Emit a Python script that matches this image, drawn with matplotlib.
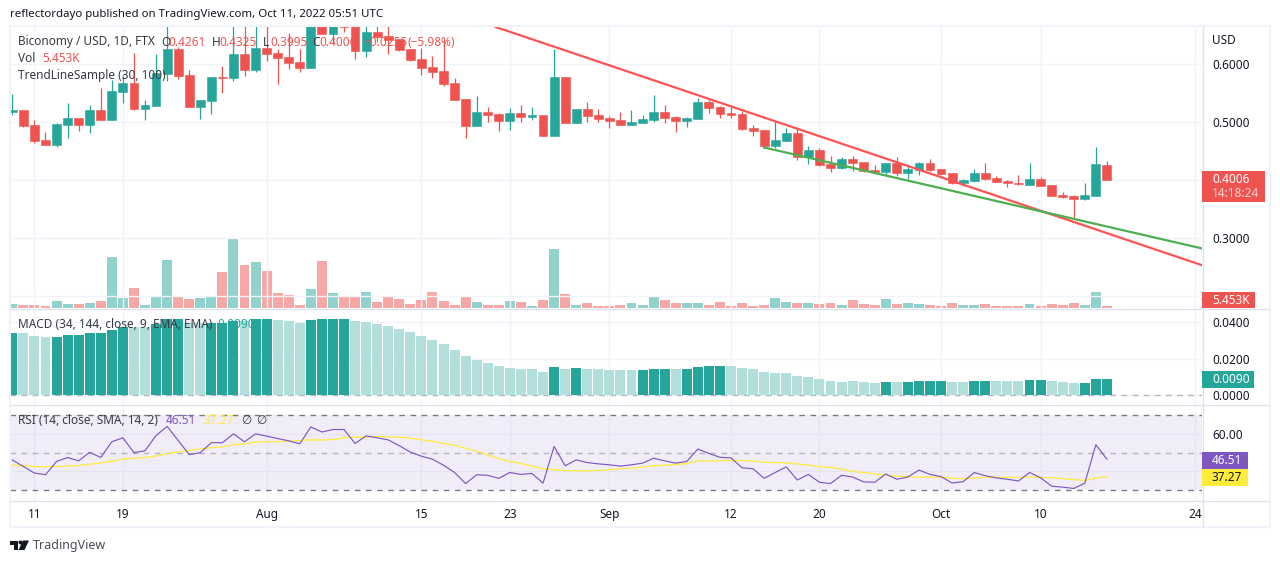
import matplotlib
matplotlib.use("Agg")
import matplotlib.pyplot as plt
from matplotlib.patches import Rectangle, Polygon, Circle

W, H = 1280, 563
GREEN = '#26a69a'
RED = '#ef5350'
PURPLE = '#7e57c2'
YELLOW = '#ffeb3b'
GRID = '#f0f3fa'
BORDER = '#e0e3eb'
TEXT = '#131722'

plt.rcParams['font.family'] = ['Noto Sans', 'DejaVu Sans']
plt.rcParams['font.size'] = 8.5

# candles, Jul 9 to Oct 16, day 0 is Jul 11
first_day = -2
opens = [.5184, .5213, .4953, .4693, .4612, .4959, .5074, .4959, .5213, .5045,
         .5530, .5680, .5236, .5288, .5842, .6269, .5819, .5270, .5374, .5784,
         .5773, .6182, .5911, .6286, .6199, .6130, .6044, .5945, .6950, .6534,
         .6700, .6700, .6240, .6557, .6494, .6441, .6269, .6095, .5957, .5888,
         .5680, .5403, .4942, .5178, .5143, .5028, .5161, .5097, .5126, .4768,
         .5784, .4993, .5230, .5126, .5074, .5040, .4959, .4993, .5045, .5178,
         .5091, .5028, .5063, .5351, .5265, .5161, .5143, .4901, .4866, .4595,
         .4681, .4814, .4399, .4520, .4277, .4214, .4364, .4312, .4174, .4145,
         .4295, .4127, .4174, .4295, .4185, .4122, .3954, .3989, .4122, .4035,
         .3983, .3949, .3920, .4018, .3914, .3741, .3724, .3677, .3729, .4261]
closes = [.5213, .4936, .4682, .4612, .4970, .5074, .4959, .5213, .5045, .5542,
          .5680, .5236, .5299, .5847, .6269, .5807, .5270, .5386, .5784, .5773,
          .6182, .5911, .6286, .6188, .6119, .6032, .5945, .6950, .6534, .6800,
          .6644, .6240, .6557, .6482, .6430, .6251, .6078, .5945, .5876, .5668,
          .5391, .4942, .5178, .5126, .5028, .5161, .5097, .5126, .4768, .5784,
          .4993, .5230, .5115, .5063, .5028, .4959, .5005, .5057, .5178, .5080,
          .5028, .5074, .5351, .5253, .5149, .5126, .4890, .4855, .4595, .4693,
          .4814, .4404, .4520, .4266, .4214, .4364, .4300, .4162, .4145, .4295,
          .4127, .4185, .4295, .4174, .4110, .3954, .4000, .4122, .4024, .3972,
          .3943, .3925, .4018, .3902, .3729, .3706, .3677, .3741, .4277, .4006]
highs = [.5490, .5213, .5040, .4832, .4988, .5334, .5074, .5299, .5588, .5732,
         .5819, .6199, .5386, .6182, .6900, .6297, .5905, .5386, .5784, .5974,
         .6800, .6800, .6800, .6800, .6269, .6540, .6269, .7100, .7100, .7000,
         .6800, .6900, .6800, .6800, .6800, .6441, .6269, .6286, .6148, .6424,
         .5767, .5403, .5455, .5265, .5161, .5247, .5299, .5265, .5126, .6269,
         .5784, .5230, .5351, .5230, .5109, .5178, .5213, .5126, .5472, .5299,
         .5109, .5091, .5420, .5386, .5282, .5299, .5195, .4953, .4866, .5039,
         .4900, .4918, .4589, .4554, .4416, .4399, .4416, .4312, .4260, .4295,
         .4399, .4277, .4312, .4364, .4185, .4122, .4018, .4191, .4295, .4070,
         .4000, .4087, .4295, .4052, .3914, .3793, .3735, .3949, .4572, .4325]
lows = [.5126, .4924, .4647, .4612, .4578, .4734, .4855, .4820, .5045, .5045,
        .5334, .5213, .5045, .5288, .5720, .5755, .5270, .5063, .5149, .5513,
        .5720, .5807, .5876, .6067, .5668, .5928, .5876, .5945, .6534, .6372,
        .6569, .6101, .6136, .6396, .6188, .6240, .6061, .5824, .5772, .5634,
        .5391, .4734, .4942, .5011, .4855, .4872, .5011, .5045, .4768, .4768,
        .4993, .4993, .5011, .5011, .4907, .4959, .4959, .4993, .5011, .4993,
        .4838, .4924, .5063, .5166, .5080, .5080, .4872, .4768, .4561, .4554,
        .4681, .4352, .4283, .4248, .4145, .4191, .4162, .4145, .4145, .4093,
        .4075, .4018, .4093, .4162, .4093, .3937, .3902, .3972, .4006, .3972,
        .3885, .3914, .3920, .3902, .3729, .3695, .3331, .3660, .3729, .3995]

# volume in thousands
volumes = [10.9, 8.2, 8.2, 5.5, 19.1, 10.9, 10.9, 13.6, 19.1, 139.1,
           27.3, 54.5, 8.2, 30.0, 130.9, 32.7, 24.5, 27.3, 30.0, 98.2,
           190.9, 117.3, 125.5, 100.9, 40.9, 35.5, 8.2, 51.8, 128.2, 40.9,
           32.7, 30.0, 43.6, 16.4, 32.7, 24.5, 10.9, 21.8, 43.6, 19.1,
           8.2, 30.0, 16.4, 8.2, 8.2, 19.1, 16.4, 5.5, 21.8, 160.9,
           38.2, 8.2, 13.6, 5.5, 5.5, 8.2, 13.6, 8.2, 30.0, 21.8,
           13.6, 13.6, 13.6, 8.2, 16.4, 5.5, 13.6, 5.5, 8.2, 27.3,
           16.4, 13.6, 13.6, 10.9, 13.6, 8.2, 21.8, 10.9, 8.2, 24.5,
           10.9, 13.6, 10.9, 8.2, 5.5, 13.6, 8.2, 8.2, 10.9, 5.5,
           5.5, 5.5, 10.9, 5.5, 10.9, 8.2, 13.6, 8.2, 43.6, 5.453]

macd_hist = [.0340, .0340, .0323, .0318, .0318, .0329, .0329, .0340, .0340, .0356,
             .0372, .0372, .0372, .0389, .0416, .0416, .0394, .0394, .0394, .0394,
             .0405, .0405, .0416, .0416, .0410, .0405, .0394, .0410, .0416, .0416,
             .0416, .0405, .0399, .0389, .0378, .0361, .0345, .0323, .0302, .0280,
             .0248, .0215, .0193, .0177, .0161, .0150, .0145, .0145, .0128, .0155,
             .0145, .0150, .0145, .0145, .0139, .0139, .0139, .0139, .0145, .0145,
             .0145, .0145, .0155, .0161, .0161, .0161, .0150, .0145, .0128, .0123,
             .0123, .0107, .0101, .0090, .0080, .0074, .0076, .0070, .0065, .0070,
             .0070, .0070, .0076, .0076, .0076, .0070, .0070, .0076, .0076, .0076,
             .0076, .0076, .0081, .0081, .0076, .0070, .0065, .0065, .0087, .0090]
# 1 where the histogram is drawn in the strong colour
macd_strong = [1, 0, 0, 0, 1, 1, 1, 1, 1, 1,
               1, 0, 0, 1, 1, 1, 0, 0, 1, 1,
               1, 0, 1, 1, 0, 0, 0, 1, 1, 1,
               1, 0, 0, 0, 0, 0, 0, 0, 0, 0,
               0, 0, 0, 0, 0, 0, 0, 0, 0, 1,
               0, 1, 0, 0, 0, 0, 0, 1, 1, 1,
               0, 1, 1, 1, 1, 0, 0, 0, 0, 0,
               0, 0, 0, 0, 0, 0, 0, 0, 0, 1,
               0, 1, 1, 1, 1, 0, 0, 1, 1, 0,
               0, 0, 1, 1, 0, 0, 0, 1, 1, 1]

rsi = [46.1, 42.6, 39.1, 38.2, 45.3, 47.4, 45.6, 50.2, 47.4, 55.8,
       57.9, 50.0, 51.0, 59.1, 64.0, 56.5, 48.9, 50.0, 55.3, 55.3,
       60.0, 55.8, 60.0, 58.8, 57.5, 56.3, 54.7, 63.7, 61.0, 62.3,
       62.3, 54.9, 58.9, 57.9, 56.8, 53.7, 50.3, 48.1, 46.5, 43.3,
       39.4, 33.5, 38.2, 37.9, 36.3, 39.4, 38.4, 38.9, 33.7, 53.3,
       43.0, 46.1, 44.7, 44.0, 43.5, 42.8, 43.5, 44.4, 47.0, 45.6,
       44.4, 45.3, 51.9, 49.6, 47.5, 47.2, 41.9, 41.4, 36.3, 39.4,
       42.4, 35.4, 38.4, 34.2, 33.5, 37.9, 37.0, 34.4, 34.2, 38.6,
       35.8, 37.0, 40.7, 38.4, 37.2, 33.8, 34.5, 39.4, 37.7, 36.5,
       35.8, 34.9, 39.4, 36.6, 32.1, 31.6, 30.9, 33.7, 54.2, 46.51]
rsi_ma = [43.5, 43.0, 42.6, 42.4, 42.6, 42.8, 43.1, 43.8, 44.5, 45.4,
          46.7, 47.0, 47.4, 48.2, 49.5, 50.3, 51.2, 51.9, 52.6, 53.1,
          54.2, 54.7, 55.6, 55.8, 55.8, 56.1, 56.5, 56.8, 56.7, 57.0,
          57.9, 58.2, 58.4, 58.6, 58.4, 58.2, 57.7, 56.8, 56.1, 54.9,
          54.0, 52.3, 50.7, 48.8, 46.8, 45.4, 44.2, 42.8, 41.4, 40.9,
          40.5, 40.3, 40.3, 40.5, 40.9, 41.4, 41.7, 42.3, 43.0, 43.3,
          43.7, 44.2, 45.6, 45.4, 45.8, 45.8, 45.8, 45.4, 44.9, 44.7,
          44.5, 44.0, 43.3, 42.6, 42.1, 41.2, 40.0, 39.4, 38.6, 38.0,
          37.5, 37.0, 36.8, 37.0, 36.8, 36.3, 36.1, 36.5, 36.8, 36.8,
          36.8, 36.8, 37.0, 36.8, 36.6, 36.1, 35.6, 35.2, 36.5, 37.27]

# trendlines, (day, price) of each end
red_line_days = [41.7, 105.6]
red_line_prices = [.6650, .2525]
green_line_days = [66.0, 105.6]
green_line_prices = [.4563, .2815]

price_ticks = [.2, .3, .4, .5, .6]
macd_ticks = [0, .02, .04]
rsi_ticks = [40, 60]
time_ticks = [0, 8, 21, 35, 43, 52, 63, 71, 82, 91, 105]
time_labels = ['11', '19', 'Aug', '15', '23', 'Sep', '12', '20', 'Oct', '10', '24']
month_labels = ['Aug', 'Sep', 'Oct']

days = list(range(first_day, first_day + len(closes)))
up = [c >= o for o, c in zip(opens, closes)]
candle_colors = [GREEN if u else RED for u in up]
volume_colors = [GREEN + '80' if u else RED + '80' for u in up]
macd_colors = [GREEN if s else '#b2dfdb' for s in macd_strong]

fig = plt.figure(figsize=(W / 100, H / 100), dpi=100)


def pane(left, top, right, bottom):
    ax = fig.add_axes([left / W, 1 - bottom / H, (right - left) / W, (bottom - top) / H])
    ax.set_xlim(-2.21, 105.6)
    for s in ax.spines.values():
        s.set_visible(False)
    ax.yaxis.tick_right()
    ax.tick_params(axis='y', length=0, pad=7.2, labelcolor=TEXT)
    ax.tick_params(axis='x', length=0, pad=5, labelcolor=TEXT)
    ax.set_xticks(time_ticks)
    ax.set_xticklabels([])
    ax.grid(True, color=GRID, linewidth=1)
    ax.set_axisbelow(True)
    return ax


def label(x, y, s, color=TEXT, **kw):
    kw.setdefault('zorder', 10)
    return fig.text(x / W, 1 - y / H, s, color=color, va='center', **kw)


def box(left, top, right, bottom, color):
    fig.add_artist(Rectangle((left / W, 1 - bottom / H), (right - left) / W, (bottom - top) / H,
                             facecolor=color, edgecolor='none', zorder=5, transform=fig.transFigure))


# main pane
ax = pane(10, 27, 1202, 308)
ax.set_ylim(.1784, .6649)
vol_ax = ax.twinx()
vol_ax.set_ylim(0, 767)
vol_ax.axis('off')
vol_ax.bar(days, volumes, width=.9, color=volume_colors, linewidth=0, zorder=1)
ax.yaxis.tick_right()
ax.set_yticks(price_ticks)
ax.set_yticklabels(['%.4f' % t for t in price_ticks])
ax.set_zorder(vol_ax.get_zorder() + 1)
ax.patch.set_visible(False)
ax.vlines(days, lows, highs, colors=candle_colors, linewidth=.9, zorder=3)
ax.bar(days, [abs(c - o) for o, c in zip(opens, closes)], bottom=[min(o, c) for o, c in zip(opens, closes)],
       width=.8, color=candle_colors, edgecolor=candle_colors, linewidth=.4, zorder=4)
ax.plot(red_line_days, red_line_prices, color='#ff5252', linewidth=1.6, zorder=5)
ax.plot(green_line_days, green_line_prices, color='#4caf50', linewidth=1.6, zorder=5)

# MACD pane
ax2 = pane(10, 309, 1202, 404)
ax2.set_ylim(-.00466, .04684)
ax2.set_yticks(macd_ticks)
ax2.set_yticklabels(['%.4f' % t for t in macd_ticks])
ax2.bar(days, macd_hist, width=.9, color=macd_colors, linewidth=0, zorder=3)
ax2.axhline(0, color='#787b86', alpha=.5, linewidth=1, dashes=(4, 4), zorder=2)

# RSI pane
ax3 = pane(10, 405, 1202, 501)
ax3.set_ylim(24.2, 75.4)
ax3.set_yticks(rsi_ticks)
ax3.set_yticklabels(['', '60.00'])
ax3.axhspan(30, 70, facecolor=PURPLE, alpha=.1, linewidth=0, zorder=1)
for level, a in [(70, 1), (50, .5), (30, 1)]:
    ax3.axhline(level, color='#787b86', alpha=a, linewidth=1, dashes=(4, 4), zorder=2)
ax3.plot(days, rsi_ma, color=YELLOW, linewidth=.9, zorder=3)
ax3.plot(days, rsi, color=PURPLE, linewidth=.85, zorder=4)
ax3.set_xticklabels(time_labels)
for t in ax3.get_xticklabels():
    if t.get_text() in month_labels:
        t.set_fontweight('medium')

# frame and separators
fig.add_artist(Rectangle((9.5 / W, 1 - 527 / H), 1260 / W, 501 / H, fill=False, edgecolor=GRID,
                         linewidth=1.5, zorder=4, transform=fig.transFigure))
for y in [308.5, 404.5, 500.5]:
    fig.add_artist(plt.Line2D([10 / W, 1269 / W], [1 - y / H] * 2, color=BORDER, linewidth=1, zorder=4))
fig.add_artist(plt.Line2D([1202.5 / W] * 2, [1 - 27 / H, 1 - 527 / H], color=BORDER, linewidth=1, zorder=4))

# price scale labels
label(1212, 40.5, 'USD')
box(1202, 171, 1265, 201.5, RED)
label(1212, 179.5, '0.4006', 'white', fontweight='medium')
label(1212, 193.5, '14:18:24', '#fcd5d4', fontweight='medium')
box(1202, 292, 1255, 308, RED)
label(1212, 300.5, '5.453K', 'white', fontweight='medium')
box(1202, 371, 1254, 388, GREEN)
label(1212, 379.5, '0.0090', 'white', fontweight='medium')
box(1202, 452, 1248, 469, PURPLE)
label(1212, 460.5, '46.51', 'white', fontweight='medium')
box(1202, 469, 1248, 486, YELLOW)
label(1212, 477.5, '37.27')

# legends
label(18, 42, 'Biconomy / USD, 1D, FTX', '#363a45')
for x, s in [(161, 'O'), (212, 'H'), (263, 'L'), (312, 'C')]:
    label(x, 42, s, '#363a45')
for x, s in [(168, '0.4261'), (219.5, '0.4325'), (270, '0.3995'), (319, '0.4006'),
             (363, '−0.0255'), (407, '(−5.98%)')]:
    label(x, 42, s, RED)
label(18, 59, 'Vol', '#363a45')
label(42, 59, '5.453K', RED)
label(18, 76, 'TrendLineSample (30, 100)', '#363a45')
label(18, 324, 'MACD (34, 144, close, 9, EMA, EMA)', '#363a45')
label(217, 324, '0.0090', GREEN)
label(18, 420, 'RSI (14, close, SMA, 14, 2)', '#363a45')
label(166, 420, '46.51', PURPLE)
label(203, 420, '37.27', YELLOW)
label(241, 420, '∅', '#363a45')
label(256, 420, '∅', '#363a45')

# header and footer
label(10, 14.5, 'reflectordayo published on TradingView.com, Oct 11, 2022 05:51 UTC', '#131722', fontsize=8.25)
label(33, 545.5, 'TradingView', '#4a4e59', fontsize=9)


def logo_pts(pts):
    return [(x / W, 1 - y / H) for x, y in pts]


for pts in [[(10, 540.5), (18, 540.5), (18, 550), (14, 550), (14, 544.5), (10, 544.5)],
            [(23, 540.5), (29, 540.5), (24.5, 550), (18.5, 550)]]:
    fig.add_artist(Polygon(logo_pts(pts), closed=True, facecolor=TEXT, edgecolor='none', transform=fig.transFigure))
fig.add_artist(Circle((20.5, H - 542.5), 2, facecolor=TEXT, edgecolor='none', transform=None))

fig.savefig('out.png', dpi=100)
